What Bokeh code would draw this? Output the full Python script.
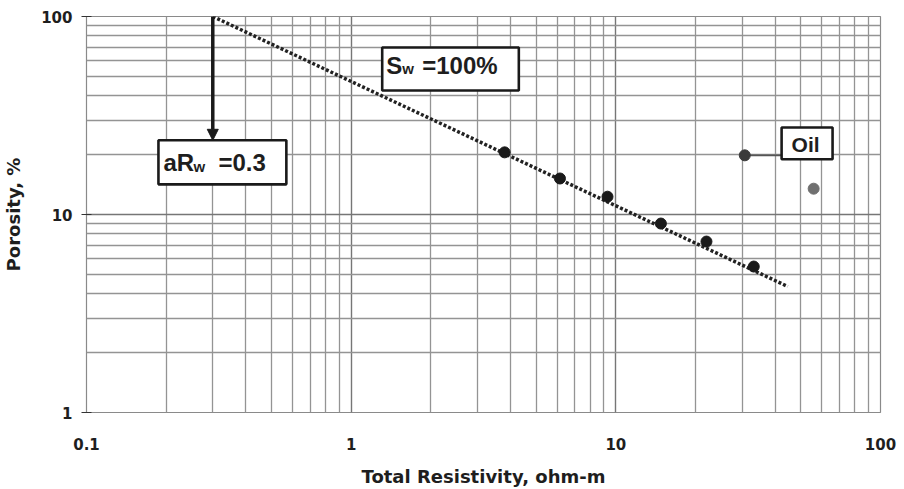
from bokeh.plotting import figure
from bokeh.models import Range1d, FixedTicker, BoxAnnotation, Label, Arrow, NormalHead
from bokeh.embed import file_html
from bokeh.resources import INLINE

# ---- data ----
res_x = [3.8, 6.15, 9.3, 14.8, 22.0, 33.2]
por_y = [20.6, 15.2, 12.3, 9.0, 7.3, 5.46]
oil_x = [30.7, 55.9]
oil_y = [19.9, 13.5]
oil_colors = ["#3a3a3a", "#707070"]
sw_line_x = [0.3, 44.6]
sw_line_y = [100.0, 4.33]
arw_x = 0.3
arw_y = [100.0, 23.7]
x_major = [0.1, 1, 10, 100]
x_minor = [0.2, 0.3, 0.4, 0.5, 0.6, 0.7, 0.8, 0.9,
           2, 3, 4, 5, 6, 7, 8, 9,
           20, 30, 40, 50, 60, 70, 80, 90]
y_major = [1, 10, 100]
y_minor = [2, 3, 4, 5, 6, 7, 8, 9, 20, 30, 40, 50, 60, 70, 80, 90]
x_labels = {0.1: "0.1", 1: "1", 10: "10", 100: "100"}
y_labels = {1: "1", 10: "10", 100: "100"}
# annotation boxes (data coords)
sw_box = dict(left=1.31, right=4.30, bottom=42.3, top=69.7)
arw_box = dict(left=0.187, right=0.569, bottom=14.2, top=23.7)
oil_box = dict(left=42.3, right=65.9, bottom=19.0, top=27.5)

FONT = "DejaVu Sans"
BFONT = "Liberation Sans"
TXT = "#1e1e1e"

p = figure(width=904, height=489, x_axis_type="log", y_axis_type="log",
           x_range=Range1d(0.1, 100), y_range=Range1d(1, 100),
           output_backend="svg", toolbar_location=None,
           min_border_left=86, min_border_right=24, min_border_top=16,
           min_border_bottom=77)
p.background_fill_color = "white"
p.outline_line_color = "#8a8a8a"
p.outline_line_width = 1.2

p.xaxis.ticker = FixedTicker(ticks=x_major, minor_ticks=x_minor)
p.yaxis.ticker = FixedTicker(ticks=y_major, minor_ticks=y_minor)
p.xaxis.major_label_overrides = x_labels
p.yaxis.major_label_overrides = y_labels

for ax in (p.xaxis[0], p.yaxis[0]):
    ax.axis_line_color = None
    ax.minor_tick_line_color = None
    ax.major_label_text_font = FONT
    ax.major_label_text_font_style = "bold"
    ax.major_label_text_font_size = "15px"
    ax.major_label_text_color = TXT
    ax.axis_label_text_font = FONT
    ax.axis_label_text_font_style = "bold"
    ax.axis_label_text_font_size = "18px"
    ax.axis_label_text_color = TXT

p.xaxis.axis_label = "Total Resistivity, ohm-m"
p.yaxis.axis_label = "Porosity, %"
p.xaxis.major_tick_line_color = None
p.xaxis.major_label_standoff = 19
p.xaxis.axis_label_standoff = 13
p.yaxis.major_tick_in = 5
p.yaxis.major_tick_out = 5
p.yaxis.major_tick_line_color = "#333333"
p.yaxis.major_label_standoff = 9
p.yaxis.axis_label_standoff = 14

for g in (p.xgrid[0], p.ygrid[0]):
    g.grid_line_color = "#767676"
    g.grid_line_width = 1.4
    g.minor_grid_line_color = "#949494"
    g.minor_grid_line_width = 1.3

# S_w = 100% line
p.line(sw_line_x, sw_line_y, line_color="#222222", line_width=3.5, line_dash="3 2")

# data points
p.scatter(res_x, por_y, size=11, color="#1a1a1a")
# oil connector
p.line([oil_x[0], oil_box["left"]], [oil_y[0], oil_y[0]], line_color="#555555", line_width=1.8)
p.scatter(oil_x, oil_y, size=11, color=oil_colors)

# arrow
p.add_layout(Arrow(end=NormalHead(size=11, fill_color="#1a1a1a", line_color="#1a1a1a"),
                   x_start=arw_x, y_start=arw_y[0], x_end=arw_x, y_end=arw_y[1],
                   line_width=3.5, line_color="#1a1a1a"))

# boxes
for b in (sw_box, arw_box, oil_box):
    p.add_layout(BoxAnnotation(left=b["left"], right=b["right"], bottom=b["bottom"], top=b["top"],
                               fill_color="white", fill_alpha=1.0,
                               line_color="#1a1a1a", line_width=2.6, line_alpha=1.0))


def lab(text, x, y, xo, yo, size):
    p.add_layout(Label(x=x, y=y, x_offset=xo, y_offset=yo, text=text,
                       text_font=BFONT, text_font_style="bold",
                       text_font_size=size, text_color=TXT,
                       text_baseline="alphabetic", text_align="left"))


# S_w =100%
lab("S", sw_box["left"], sw_box["bottom"], 4, 25, "24px")
lab("w", sw_box["left"], sw_box["bottom"], 20, 22, "15px")
lab("=100%", sw_box["left"], sw_box["bottom"], 40, 25, "24px")
# aR_w =0.3
lab("aR", arw_box["left"], arw_box["bottom"], 5, 22, "24px")
lab("w", arw_box["left"], arw_box["bottom"], 35, 18, "15px")
lab("=0.3", arw_box["left"], arw_box["bottom"], 60, 22, "24px")
# Oil
lab("Oil", oil_box["left"], oil_box["bottom"], 10, 15, "21px")

open("out.html", "w").write(file_html(p, INLINE))
